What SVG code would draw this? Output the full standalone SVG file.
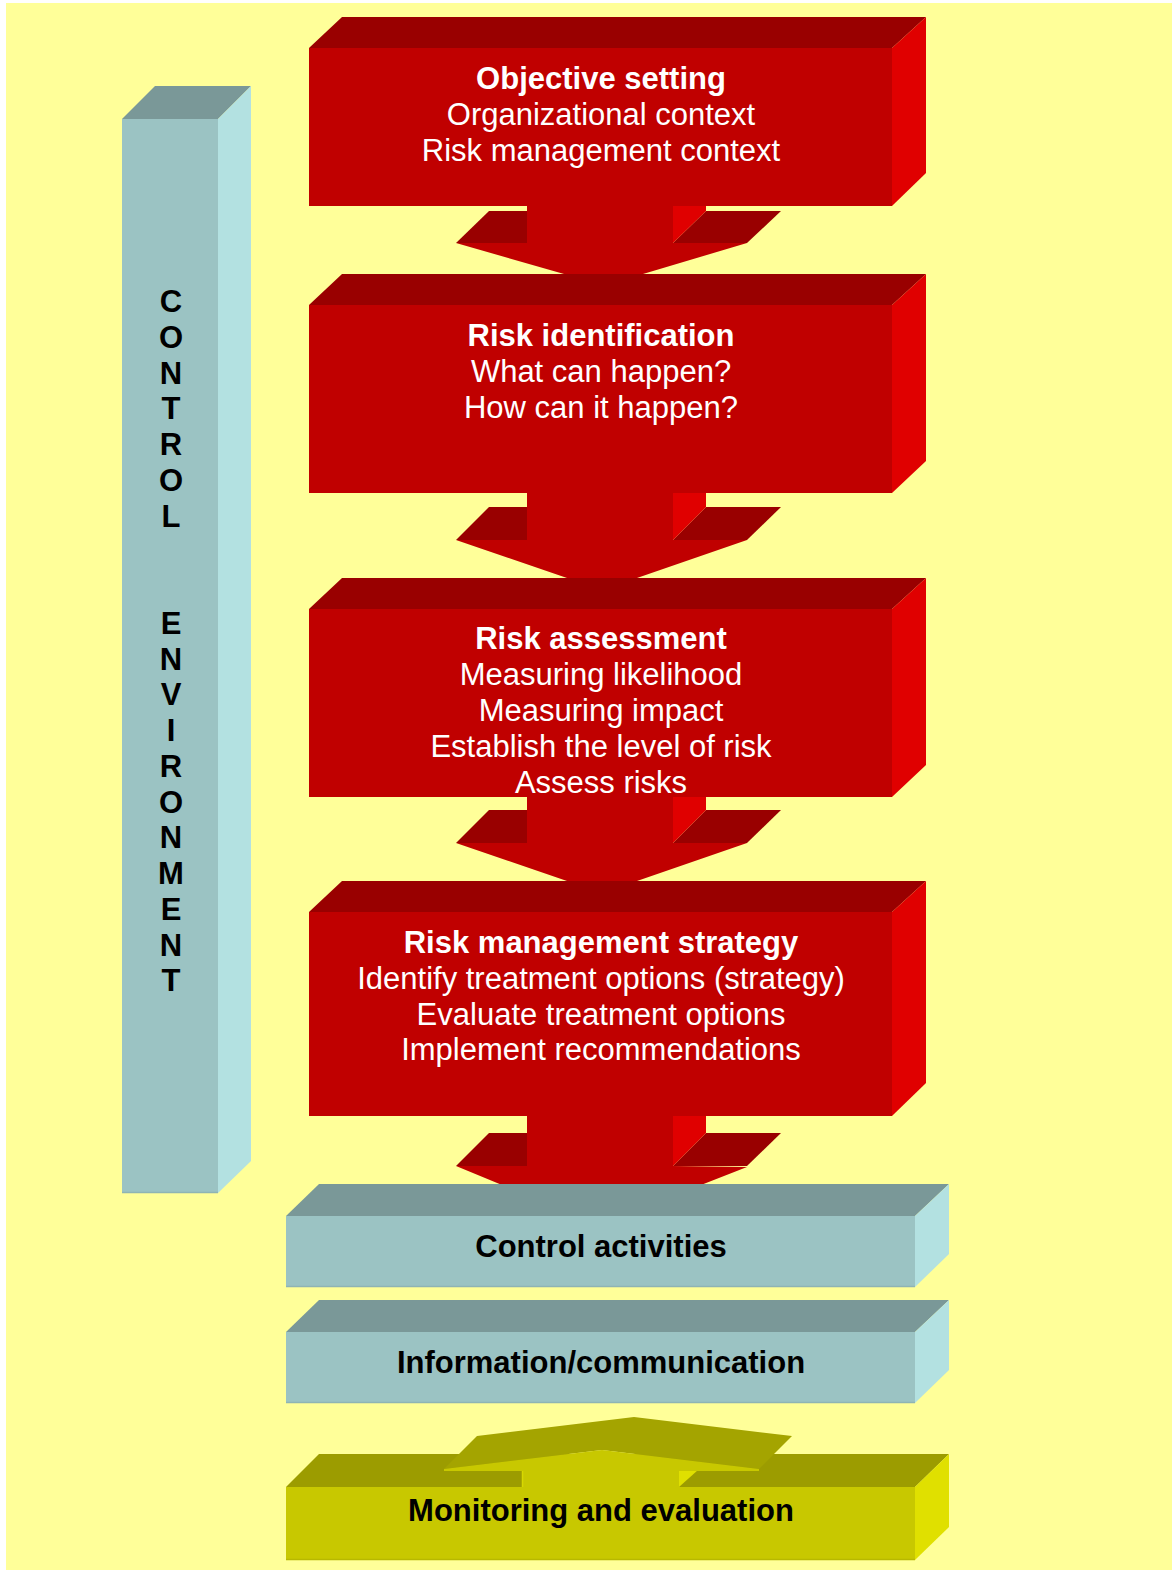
<svg xmlns="http://www.w3.org/2000/svg" width="1172" height="1570" viewBox="0 0 1172 1570">
  <style>
    .rf { fill: #C00000; }
    .rt { fill: #990000; }
    .rs { fill: #E00000; }
    .tf { fill: #9BC3C3; }
    .tt { fill: #7A9898; }
    .ts { fill: #B3E1E1; }
    .of { fill: #C8C800; }
    .ot { fill: #9C9C00; }
    .oa { fill: #A4A400; }
    .os { fill: #E0E000; }
    .edge { fill: none; stroke-width: 1.5; }
    text { font-family: "Liberation Sans", Arial, sans-serif; font-size: 31px; text-anchor: middle; }
    .w { fill: #FFFFFF; }
    .k { fill: #000000; }
    .b { font-weight: bold; }
  </style>

  <!-- page background -->
  <rect x="0" y="0" width="1172" height="1570" fill="#FFFFFF"/>
  <rect x="6" y="3" width="1166" height="1567" fill="#FFFF99"/>

  <!-- control environment pillar -->
  <g id="control-environment">
    <polygon class="tt" points="122,119 155,86 251,86 218,119"/>
    <polygon class="ts" points="218,119 251,86 251,1161 218,1193"/>
    <rect class="tf" x="122" y="119" width="96" height="1074"/>
    <line class="edge" stroke="#8FB4B4" x1="122" y1="1192.5" x2="218" y2="1192.5"/>
    <g class="k b">
      <text class="k b" x="171" y="312">C</text>
      <text class="k b" x="171" y="347.75">O</text>
      <text class="k b" x="171" y="383.5">N</text>
      <text class="k b" x="171" y="419.25">T</text>
      <text class="k b" x="171" y="455">R</text>
      <text class="k b" x="171" y="490.75">O</text>
      <text class="k b" x="171" y="526.5">L</text>
      <text class="k b" x="171" y="633.75">E</text>
      <text class="k b" x="171" y="669.5">N</text>
      <text class="k b" x="171" y="705.25">V</text>
      <text class="k b" x="171" y="741">I</text>
      <text class="k b" x="171" y="776.75">R</text>
      <text class="k b" x="171" y="812.5">O</text>
      <text class="k b" x="171" y="848.25">N</text>
      <text class="k b" x="171" y="884">M</text>
      <text class="k b" x="171" y="919.75">E</text>
      <text class="k b" x="171" y="955.5">N</text>
      <text class="k b" x="171" y="991.25">T</text>
    </g>
  </g>

  <!-- block arrows between the stages -->
  <g id="connectors">
    <!-- objective setting to risk identification -->
    <g id="arrow-1">
      <polygon class="rt" points="456,243 489,211 527,211 527,243"/>
      <polygon class="rt" points="673,243 706,211 781,211 747,243"/>
      <polygon class="rs" points="673,206 706,206 706,211 673,243"/>
      <polygon class="rf" points="527,206 673,206 673,243 747,243 643,274 564,274 456,243 527,243"/>
    </g>
    <!-- risk identification to risk assessment -->
    <g id="arrow-2">
      <polygon class="rt" points="456,540 489,507 527,507 527,540"/>
      <polygon class="rt" points="673,540 706,507 781,507 747,540"/>
      <polygon class="rs" points="673,493 706,493 706,507 673,540"/>
      <polygon class="rf" points="527,493 673,493 673,540 747,540 637,578 567,578 456,540 527,540"/>
    </g>
    <!-- risk assessment to risk management strategy -->
    <g id="arrow-3">
      <polygon class="rt" points="456,843 489,810 527,810 527,843"/>
      <polygon class="rt" points="673,843 706,810 781,810 747,843"/>
      <polygon class="rs" points="673,797 706,797 706,810 673,843"/>
      <polygon class="rf" points="527,797 673,797 673,843 747,843 637,881 567,881 456,843 527,843"/>
    </g>
    <!-- risk management strategy to control activities -->
    <g id="arrow-4">
      <polygon class="rt" points="456,1166 489,1133 527,1133 527,1166"/>
      <polygon class="rt" points="673,1166 706,1133 781,1133 747,1166"/>
      <polygon class="rs" points="673,1116 706,1116 706,1133 673,1166"/>
      <polygon class="rf" points="527,1116 673,1116 673,1166 747,1167 701,1185 502,1185 456,1166 527,1166"/>
    </g>
  </g>

  <!-- stage boxes -->
  <g id="objective-setting">
    <polygon class="rt" points="309,48 342,17 926,17 892,48"/>
    <polygon class="rs" points="892,48 926,17 926,173 892,206"/>
    <rect class="rf" x="309" y="48" width="583" height="158"/>
    <text class="w b" x="601" y="89">Objective setting</text>
    <text class="w" x="601" y="125">Organizational context</text>
    <text class="w" x="601" y="161">Risk management context</text>
  </g>

  <g id="risk-identification">
    <polygon class="rt" points="309,305 342,274 926,274 892,305"/>
    <polygon class="rs" points="892,305 926,274 926,461 892,493"/>
    <rect class="rf" x="309" y="305" width="583" height="188"/>
    <text class="w b" x="601" y="346">Risk identification</text>
    <text class="w" x="601" y="382">What can happen?</text>
    <text class="w" x="601" y="418">How can it happen?</text>
  </g>

  <g id="risk-assessment">
    <polygon class="rt" points="309,609 342,578 926,578 892,609"/>
    <polygon class="rs" points="892,609 926,578 926,765 892,797"/>
    <rect class="rf" x="309" y="609" width="583" height="188"/>
    <text class="w b" x="601" y="649">Risk assessment</text>
    <text class="w" x="601" y="685">Measuring likelihood</text>
    <text class="w" x="601" y="721">Measuring impact</text>
    <text class="w" x="601" y="757">Establish the level of risk</text>
    <text class="w" x="601" y="793">Assess risks</text>
  </g>

  <g id="risk-management-strategy">
    <polygon class="rt" points="309,912 342,881 926,881 892,912"/>
    <polygon class="rs" points="892,912 926,881 926,1083 892,1116"/>
    <rect class="rf" x="309" y="912" width="583" height="204"/>
    <text class="w b" x="601" y="953">Risk management strategy</text>
    <text class="w" x="601" y="989">Identify treatment options (strategy)</text>
    <text class="w" x="601" y="1025">Evaluate treatment options</text>
    <text class="w" x="601" y="1060">Implement recommendations</text>
  </g>

  <g id="control-activities">
    <polygon class="tt" points="286,1216 319,1184 949,1184 915,1216"/>
    <polygon class="ts" points="915,1216 949,1184 949,1254 915,1287"/>
    <rect class="tf" x="286" y="1216" width="629" height="71"/>
    <line class="edge" stroke="#8FB4B4" x1="286" y1="1286.5" x2="915" y2="1286.5"/>
    <text class="k b" x="601" y="1257">Control activities</text>
  </g>

  <g id="information-communication">
    <polygon class="tt" points="286,1332 319,1300 949,1300 915,1332"/>
    <polygon class="ts" points="915,1332 949,1300 949,1370 915,1403"/>
    <rect class="tf" x="286" y="1332" width="629" height="71"/>
    <line class="edge" stroke="#8FB4B4" x1="286" y1="1402.5" x2="915" y2="1402.5"/>
    <text class="k b" x="601" y="1373">Information/communication</text>
  </g>

  <g id="monitoring-evaluation">
    <polygon class="ot" points="286,1487 319,1454 949,1454 915,1487"/>
    <polygon class="os" points="915,1487 949,1454 949,1527 915,1560"/>
    <rect class="of" x="286" y="1487" width="629" height="73"/>
    <!-- upward feedback arrow on the top face -->
    <polygon class="oa" points="444,1469 477,1436 634,1417 792,1436 759,1469 602,1450"/>
    <polygon class="os" points="679,1470 698,1470 679,1487"/>
    <polygon class="of" points="444,1469 602,1450 759,1469 759,1471 679,1471 679,1487 522,1487 522,1471 444,1471"/>
    <line class="edge" stroke="#D8D800" x1="522.5" y1="1471" x2="522.5" y2="1487"/>
    <line class="edge" stroke="#B8B800" x1="286" y1="1559.5" x2="915" y2="1559.5"/>
    <text class="k b" x="601" y="1521">Monitoring and evaluation</text>
  </g>
</svg>
